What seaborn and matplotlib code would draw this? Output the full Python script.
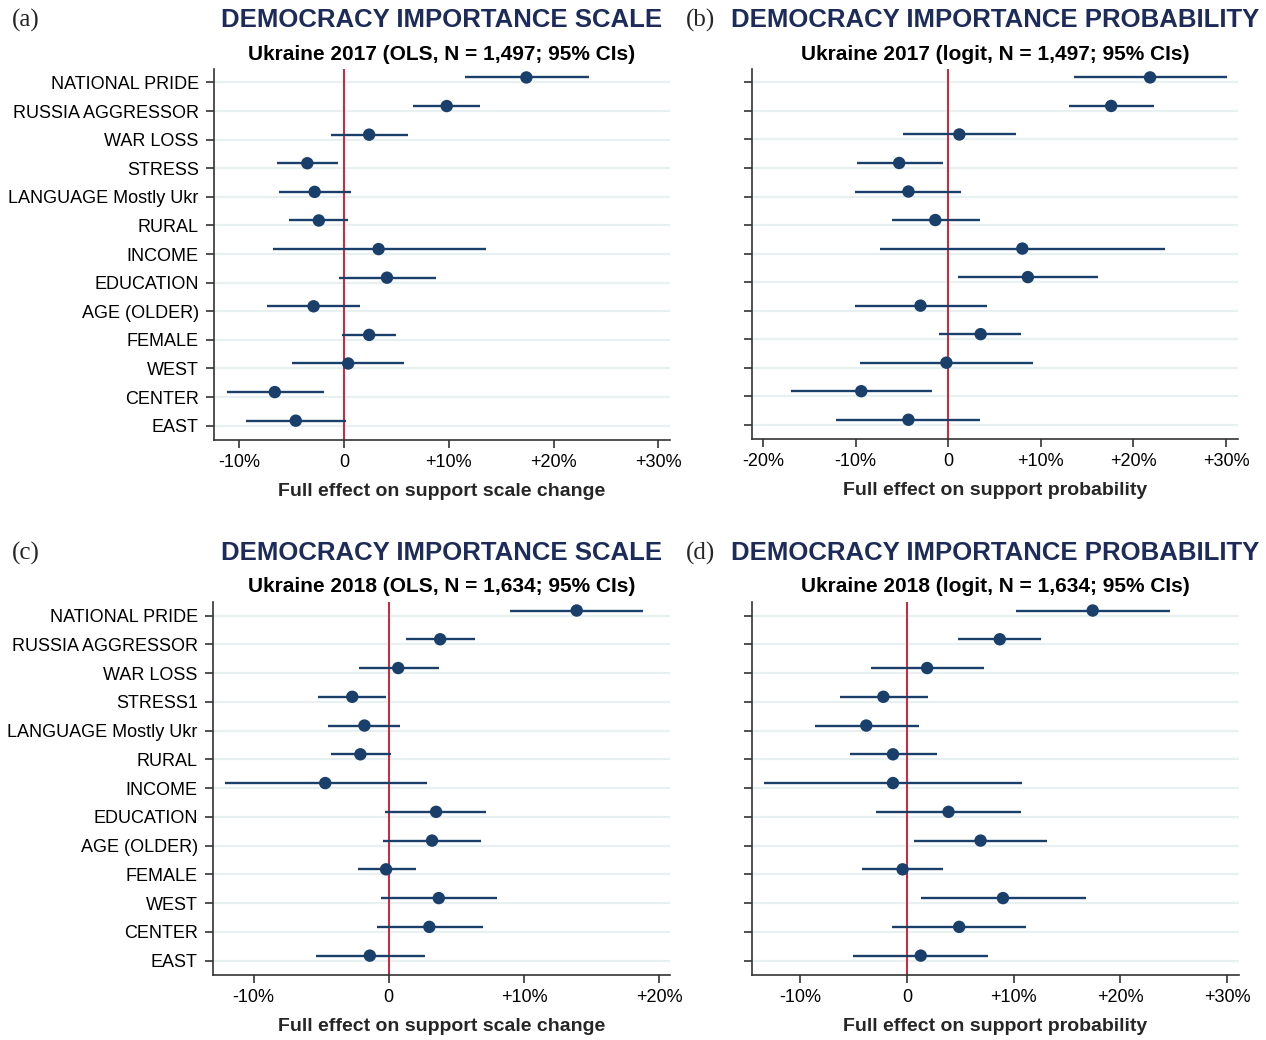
import numpy as np
import pandas as pd
import matplotlib
matplotlib.use("Agg")
import matplotlib.pyplot as plt
import matplotlib.transforms as mtransforms
import seaborn as sns

# Variables (top to bottom)
vars_2017 = ["NATIONAL PRIDE", "RUSSIA AGGRESSOR", "WAR LOSS", "STRESS",
             "LANGUAGE Mostly Ukr", "RURAL", "INCOME", "EDUCATION",
             "AGE (OLDER)", "FEMALE", "WEST", "CENTER", "EAST"]
vars_2018 = ["NATIONAL PRIDE", "RUSSIA AGGRESSOR", "WAR LOSS", "STRESS1",
             "LANGUAGE Mostly Ukr", "RURAL", "INCOME", "EDUCATION",
             "AGE (OLDER)", "FEMALE", "WEST", "CENTER", "EAST"]

# (a) 2017 OLS scale
a_est = [17.4, 9.8, 2.4, -3.5, -2.8, -2.4, 3.3, 4.1, -2.9, 2.4, 0.4, -6.6, -4.6]
a_lo = [11.5, 6.6, -1.2, -6.4, -6.2, -5.2, -6.8, -0.5, -7.3, -0.2, -5.0, -11.2, -9.3]
a_hi = [23.4, 13.0, 6.1, -0.6, 0.7, 0.4, 13.5, 8.8, 1.5, 5.0, 5.7, -1.9, 0.2]

# (b) 2017 logit probability
b_est = [21.8, 17.6, 1.2, -5.3, -4.3, -1.4, 8.0, 8.6, -3.0, 3.5, -0.2, -9.4, -4.3]
b_lo = [13.6, 13.0, -4.9, -9.9, -10.1, -6.1, -7.4, 1.0, -10.1, -1.0, -9.5, -17.0, -12.1]
b_hi = [30.1, 22.2, 7.3, -0.6, 1.4, 3.4, 23.4, 16.2, 4.2, 7.9, 9.2, -1.8, 3.4]

# (c) 2018 OLS scale
c_est = [13.9, 3.8, 0.7, -2.7, -1.8, -2.1, -4.7, 3.5, 3.2, -0.2, 3.7, 3.0, -1.4]
c_lo = [9.0, 1.3, -2.2, -5.2, -4.5, -4.3, -12.1, -0.3, -0.4, -2.3, -0.6, -0.9, -5.4]
c_hi = [18.8, 6.4, 3.7, -0.2, 0.8, 0.2, 2.8, 7.2, 6.8, 2.0, 8.0, 7.0, 2.7]

# (d) 2018 logit probability
d_est = [17.4, 8.7, 1.9, -2.2, -3.8, -1.3, -1.3, 3.9, 6.9, -0.4, 9.0, 4.9, 1.3]
d_lo = [10.2, 4.8, -3.4, -6.3, -8.6, -5.3, -13.4, -2.9, 0.7, -4.2, 1.3, -1.4, -5.0]
d_hi = [24.6, 12.6, 7.2, 2.0, 1.1, 2.8, 10.8, 10.7, 13.1, 3.4, 16.8, 11.2, 7.6]

titles = ["DEMOCRACY IMPORTANCE SCALE", "DEMOCRACY IMPORTANCE PROBABILITY",
          "DEMOCRACY IMPORTANCE SCALE", "DEMOCRACY IMPORTANCE PROBABILITY"]
subtitles = ["Ukraine 2017 (OLS, N = 1,497; 95% CIs)",
             "Ukraine 2017 (logit, N = 1,497; 95% CIs)",
             "Ukraine 2018 (OLS, N = 1,634; 95% CIs)",
             "Ukraine 2018 (logit, N = 1,634; 95% CIs)"]
xlabels = ["Full effect on support scale change", "Full effect on support probability",
           "Full effect on support scale change", "Full effect on support probability"]
letters = ["(a)", "(b)", "(c)", "(d)"]
xticks_list = [[-10, 0, 10, 20, 30], [-20, -10, 0, 10, 20, 30],
               [-10, 0, 10, 20], [-10, 0, 10, 20, 30]]
xlims = [(-12.4, 31.1), (-21.2, 31.3), (-13.0, 20.8), (-14.5, 31.1)]

sns.set_theme(style="white")
plt.rcParams["font.family"] = ["Liberation Sans", "DejaVu Sans"]

W, H = 1266, 1040
fig = plt.figure(figsize=(W / 100, H / 100), dpi=100)

# axes boxes in pixels: left, top, right, bottom
boxes = [(214, 69, 670, 440), (752, 69, 1238, 439),
         (213, 602, 670, 975), (752, 602, 1239, 975)]

navy = "#1a3f6a"
title_col = "#1c2b59"
red = "#d2213a"
grid_col = "#e8f0f2"

panels = [(vars_2017, a_est, a_lo, a_hi), (vars_2017, b_est, b_lo, b_hi),
          (vars_2018, c_est, c_lo, c_hi), (vars_2018, d_est, d_lo, d_hi)]

for i, (names, est, lo, hi) in enumerate(panels):
    l, t, r, b = boxes[i]
    ax = fig.add_axes([l / W, 1 - b / H, (r - l) / W, (b - t) / H])
    df = pd.DataFrame({"var": names, "pos": np.arange(len(names)),
                       "est": est, "lo": lo, "hi": hi})

    # gridlines at each variable
    for p in df["pos"]:
        ax.axhline(p, color=grid_col, lw=1.6, zorder=0)
    ax.axvline(0, color=red, lw=1.4, zorder=1)

    # marks sit a few pixels above their gridline, as in the source
    shift = mtransforms.offset_copy(ax.transData, fig=fig, x=0, y=5, units="dots")
    ax.hlines(df["pos"], df["lo"], df["hi"], color=navy, lw=1.7, zorder=2,
              transform=shift)
    sns.scatterplot(data=df, x="est", y="pos", ax=ax, color=navy, s=80,
                    edgecolor="none", zorder=3, transform=shift, legend=False)

    ax.set_ylim(len(names) - 0.5, -0.47)
    ax.set_xlim(*xlims[i])
    ax.set_yticks(df["pos"])
    if i % 2 == 0:
        ax.set_yticklabels(names, fontsize=13)
    else:
        ax.set_yticklabels([])
    ax.set_xticks(xticks_list[i])
    ax.set_xticklabels([("+%d%%" % v if v > 0 else ("0" if v == 0 else "%d%%" % v))
                        for v in xticks_list[i]], fontsize=13)
    ax.tick_params(axis="both", which="major", length=6, width=1.2,
                   color="#333333", direction="out", left=True, bottom=True,
                   pad=5, labelcolor="black")
    ax.tick_params(axis="x", pad=4)
    sns.despine(ax=ax)
    for s in ["left", "bottom"]:
        ax.spines[s].set_color("#333333")
        ax.spines[s].set_linewidth(1.2)
    ax.set_xlabel(xlabels[i], fontsize=14, fontweight="bold", labelpad=9)
    ax.set_ylabel("")

    cx = (l + r) / 2 / W
    fig.text(cx, 1 - (t - 49) / H, titles[i], ha="center", va="center",
             fontsize=18.5, fontweight="bold", color=title_col)
    fig.text(cx, 1 - (t - 15) / H, subtitles[i], ha="center", va="center",
             fontsize=15, fontweight="bold", color="black")
    lx = 12 if i % 2 == 0 else 686
    fig.text(lx / W, 1 - (t - 49) / H, letters[i], ha="left", va="center",
             fontsize=18, family=["Liberation Serif", "DejaVu Serif"])

fig.savefig("out.png", dpi=100)
